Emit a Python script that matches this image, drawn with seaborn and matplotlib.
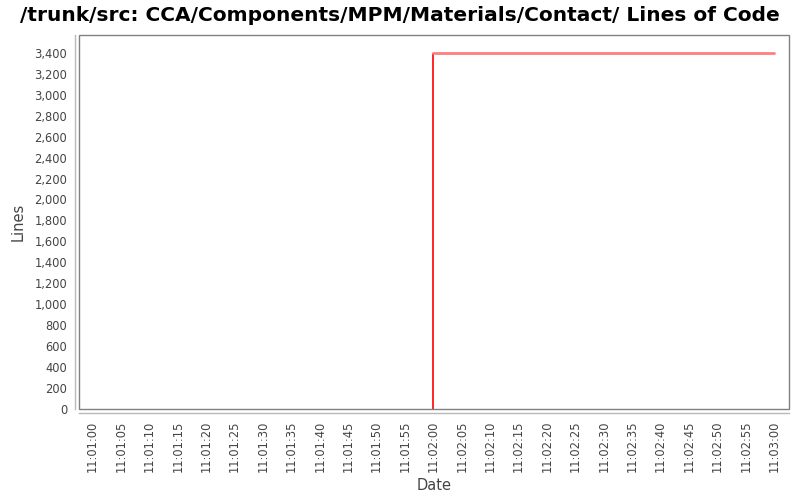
import matplotlib
matplotlib.use("Agg")
import matplotlib.pyplot as plt
import matplotlib.dates as mdates
from matplotlib.patches import Rectangle
import matplotlib.ticker as mticker
import pandas as pd
import seaborn as sns

# data
dates = ["2000-01-01 11:02:00", "2000-01-01 11:03:00"]
lines = [3400, 3400]
axis_start = "2000-01-01 11:01:00"
axis_end = "2000-01-01 11:03:00"
title = "/trunk/src: CCA/Components/MPM/Materials/Contact/ Lines of Code"
x_label = "Date"
y_label = "Lines"

df = pd.DataFrame({"Date": pd.to_datetime(dates), "Lines": lines})

sns.set_theme(style="white")
plt.rcParams["font.family"] = ["DejaVu Sans"]

fig = plt.figure(figsize=(8, 5), dpi=100)
ax = fig.add_axes([79 / 800, (500 - 409) / 500, 710 / 800, 374 / 500])

# vertical jump from 0 to first value
ax.vlines(df["Date"].iloc[0], 0, df["Lines"].iloc[0], color="#ff0000", lw=1.2, zorder=3)
sns.lineplot(data=df, x="Date", y="Lines", ax=ax, color="#ff7f7f", lw=2, zorder=4)

t0 = pd.Timestamp(axis_start)
t1 = pd.Timestamp(axis_end)
ax.set_xlim(t0 - pd.Timedelta(seconds=2.4), t1 + pd.Timedelta(seconds=2.6))
ax.set_ylim(0, 3570)

ax.xaxis.set_major_locator(mdates.SecondLocator(bysecond=range(0, 60, 5)))
ax.xaxis.set_major_formatter(mdates.DateFormatter("%H:%M:%S"))
ax.yaxis.set_major_locator(mticker.MultipleLocator(200))
ax.yaxis.set_major_formatter(mticker.FuncFormatter(lambda v, p: f"{int(v):,}"))

ax.tick_params(axis="both", labelsize=8.3, labelcolor="#444444", length=2.5, width=0.8,
               direction="out", pad=3, color="#b0b0b0")
ax.tick_params(axis="x", labelrotation=90)

for s in ["top", "right"]:
    ax.spines[s].set_visible(False)
for s in ["left", "bottom"]:
    ax.spines[s].set_position(("outward", 3))
    ax.spines[s].set_color("#b8b8b8")
    ax.spines[s].set_linewidth(1)

ax.add_patch(Rectangle((0, 0), 1, 1, transform=ax.transAxes, fill=False,
                       edgecolor="#808080", lw=1, clip_on=False, zorder=5))

ax.set_xlabel(x_label, fontsize=10.5, color="#444444", labelpad=4)
ax.set_ylabel(y_label, fontsize=10.5, color="#444444", labelpad=6)
fig.suptitle(title, fontsize=14.5, fontweight="bold", y=0.988, x=0.5, color="black")

fig.savefig("out.png", dpi=100)
